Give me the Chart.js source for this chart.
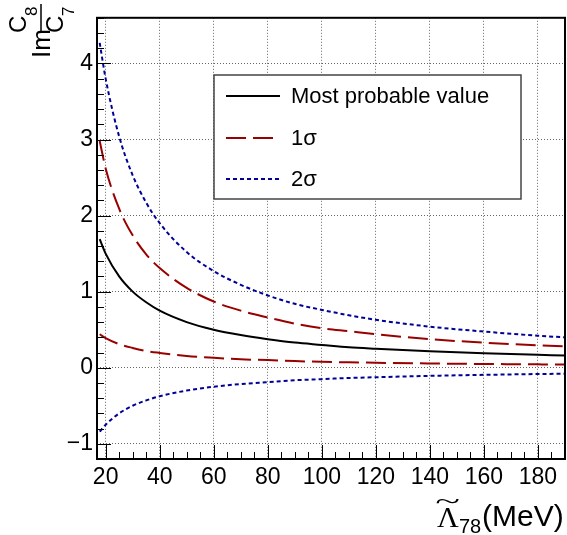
<!DOCTYPE html>
<html>
<head>
<meta charset="utf-8">
<script src="https://cdn.jsdelivr.net/npm/chart.js@4.4.1/dist/chart.umd.min.js"></script>
<style>
  body { margin: 0; background: #fff; }
  canvas { display: block; }
</style>
</head>
<body>
<canvas id="chart" width="567" height="535"></canvas>
<script>
// values
const lambdaValues = [17.8, 20, 25, 30, 35, 40, 50, 60, 70, 80, 90, 100, 110, 120, 140, 160, 180, 190];
const mostProbable = [1.69, 1.50, 1.20, 1.00, 0.86, 0.75, 0.60, 0.50, 0.43, 0.375, 0.33, 0.30, 0.27, 0.25, 0.215, 0.19, 0.17, 0.16];
const sigma1Upper  = [2.98, 2.62, 2.09, 1.74, 1.49, 1.31, 1.05, 0.87, 0.75, 0.66, 0.58, 0.52, 0.48, 0.44, 0.375, 0.33, 0.295, 0.28];
const sigma1Lower  = [0.44, 0.39, 0.31, 0.26, 0.22, 0.195, 0.155, 0.13, 0.11, 0.10, 0.087, 0.078, 0.071, 0.065, 0.056, 0.049, 0.044, 0.041];
const sigma2Upper  = [4.27, 3.80, 3.04, 2.53, 2.17, 1.90, 1.52, 1.27, 1.09, 0.95, 0.84, 0.76, 0.69, 0.63, 0.54, 0.475, 0.42, 0.40];
const sigma2Lower  = [-0.84, -0.75, -0.60, -0.50, -0.43, -0.375, -0.30, -0.25, -0.215, -0.19, -0.165, -0.15, -0.135, -0.125, -0.107, -0.094, -0.083, -0.079];

const xTickValues = [20, 40, 60, 80, 100, 120, 140, 160, 180];
const yTickValues = [-1, 0, 1, 2, 3, 4];

const FONT = '"Liberation Sans", Arial, sans-serif';
const RED = '#990000';
const BLUE = '#000099';

function pts(ys) {
  return lambdaValues.map((x, i) => ({ x: x, y: ys[i] }));
}

function lineSet(label, ys, color, dash, inLegend) {
  return {
    label: label,
    data: pts(ys),
    borderColor: color,
    borderWidth: 2,
    borderDash: dash,
    pointRadius: 0,
    fill: false,
    cubicInterpolationMode: 'monotone',
    inLegend: inLegend
  };
}

// ROOT-like frame, inner ticks, box legend and axis titles
const rootStyle = {
  id: 'rootStyle',
  afterDatasetsDraw(chart) {
    const ctx = chart.ctx;
    const xa = chart.scales.x, ya = chart.scales.y;
    const { left, right, top, bottom } = chart.chartArea;

    ctx.save();
    ctx.strokeStyle = '#000';
    ctx.lineWidth = 1;
    ctx.beginPath();
    for (let v = 20; v <= 190; v += 5) {
      const px = Math.round(xa.getPixelForValue(v)) + 0.5;
      const len = v % 20 === 0 ? 14 : 7;
      ctx.moveTo(px, bottom);
      ctx.lineTo(px, bottom - len);
    }
    for (let i = -6; i <= 23; i++) {
      const py = Math.round(ya.getPixelForValue(i / 5)) + 0.5;
      const len = i % 5 === 0 ? 14 : 7;
      ctx.moveTo(left, py);
      ctx.lineTo(left + len, py);
    }
    ctx.stroke();

    ctx.lineWidth = 2;
    ctx.strokeRect(left, top, right - left, bottom - top);

    // legend box
    const bx = 214, by = 75, bw = 307, bh = 124;
    ctx.fillStyle = '#fff';
    ctx.fillRect(bx, by, bw, bh);
    ctx.strokeStyle = '#444';
    ctx.lineWidth = 1.5;
    ctx.strokeRect(bx, by, bw, bh);
    const rowY = [96, 138, 179];
    ctx.font = '22px ' + FONT;
    ctx.textBaseline = 'middle';
    ctx.textAlign = 'left';
    chart.data.datasets.filter(d => d.inLegend).forEach((ds, i) => {
      ctx.strokeStyle = ds.borderColor;
      ctx.lineWidth = 2;
      ctx.setLineDash(ds.borderDash);
      ctx.beginPath();
      ctx.moveTo(226, rowY[i]);
      ctx.lineTo(280, rowY[i]);
      ctx.stroke();
      ctx.setLineDash([]);
      ctx.fillStyle = '#000';
      ctx.fillText(ds.label, 291, rowY[i] + 1);
    });

    // x title: tilde Lambda_78 (MeV)
    ctx.fillStyle = '#000';
    ctx.textBaseline = 'alphabetic';
    ctx.font = '30px "Liberation Serif", "Times New Roman", serif';
    ctx.fillText('\u039B', 437, 527);
    ctx.save();
    ctx.translate(447.5, 509);
    ctx.scale(1.9, 1);
    ctx.textAlign = 'center';
    ctx.font = '24px "Liberation Serif", serif';
    ctx.fillText('~', 0, 0);
    ctx.restore();
    ctx.font = '20px ' + FONT;
    ctx.fillText('78', 459, 533);
    ctx.font = '30px ' + FONT;
    ctx.fillText('(MeV)', 482, 526);

    // y title: Im C8/C7, rotated
    ctx.save();
    ctx.translate(0, 60);
    ctx.rotate(-Math.PI / 2);
    ctx.font = '26px ' + FONT;
    ctx.fillText('Im', 2, 50);
    ctx.font = '24px ' + FONT;
    ctx.fillText('C', 27, 26);
    ctx.fillText('C', 27, 63);
    ctx.font = '17px ' + FONT;
    ctx.fillText('8', 44, 37);
    ctx.fillText('7', 44, 74);
    ctx.lineWidth = 1.5;
    ctx.strokeStyle = '#000';
    ctx.beginPath();
    ctx.moveTo(27, 41);
    ctx.lineTo(56, 41);
    ctx.stroke();
    ctx.restore();

    ctx.restore();
  }
};

const gridStyle = {
  color: 'rgba(0,0,0,0.6)',
  lineWidth: 1,
  drawTicks: false
};

new Chart(document.getElementById('chart'), {
  type: 'line',
  data: {
    datasets: [
      lineSet('Most probable value', mostProbable, '#000', [], true),
      lineSet('1\u03C3', sigma1Upper, RED, [20, 7], true),
      lineSet('2\u03C3', sigma2Upper, BLUE, [4, 3], true),
      lineSet('1\u03C3 low', sigma1Lower, RED, [20, 7], false),
      lineSet('2\u03C3 low', sigma2Lower, BLUE, [4, 3], false)
    ]
  },
  options: {
    responsive: false,
    animation: false,
    layout: { padding: { top: 5, right: 2, left: 0, bottom: 0 } },
    plugins: { legend: { display: false }, tooltip: { enabled: false } },
    scales: {
      x: {
        type: 'linear',
        min: 16.8,
        max: 190,
        afterBuildTicks: s => { s.ticks = xTickValues.map(v => ({ value: v })); },
        afterFit: s => { s.height = 76; },
        grid: gridStyle,
        border: { display: false, dash: [1, 2] },
        ticks: { color: '#000', font: { family: FONT, size: 23 }, padding: 5, maxRotation: 0 }
      },
      y: {
        type: 'linear',
        min: -1.2,
        max: 4.6,
        afterBuildTicks: s => { s.ticks = yTickValues.map(v => ({ value: v })); },
        afterFit: s => { s.width = 97; },
        grid: gridStyle,
        border: { display: false, dash: [1, 2] },
        ticks: {
          color: '#000',
          font: { family: FONT, size: 23 },
          padding: 4,
          callback: v => v < 0 ? '\u2212' + Math.abs(v) : String(v)
        }
      }
    }
  },
  plugins: [rootStyle]
});
</script>
</body>
</html>
